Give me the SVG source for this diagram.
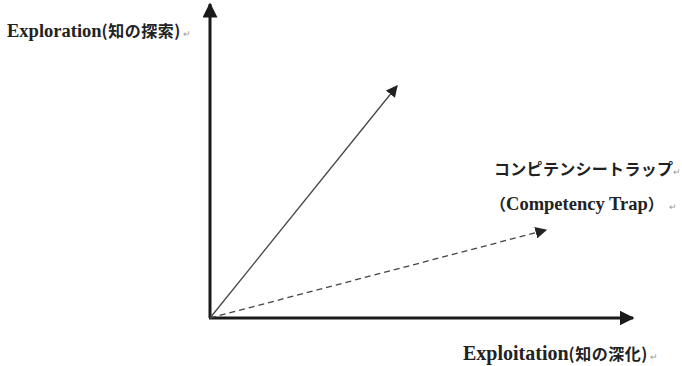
<svg xmlns="http://www.w3.org/2000/svg" width="682" height="366" viewBox="0 0 682 366">
<style>
.lbl{font-family:"Liberation Serif","Times New Roman",serif;font-weight:bold;font-size:18.5px;fill:#222;}
.big{font-size:20px;}
.cjk{font-family:"Noto Sans CJK JP",sans-serif;font-size:16px;font-weight:bold;}
.pm{font-family:"Liberation Sans",sans-serif;font-size:9px;fill:#999;font-weight:normal;}
.axis{stroke:#1a1a1a;stroke-width:3;fill:none;}
.thin{stroke:#444;stroke-width:1.3;fill:none;}
</style>
<defs>
<marker id="ah" viewBox="0 0 10 10" refX="9" refY="5" markerWidth="5" markerHeight="5" orient="auto" markerUnits="strokeWidth"><path d="M0,0 L10,5 L0,10 z" fill="#1a1a1a"/></marker>
<marker id="ah2" viewBox="0 0 10 10" refX="9" refY="5" markerWidth="9" markerHeight="9" orient="auto" markerUnits="strokeWidth"><path d="M0,0 L10,5 L0,10 z" fill="#222"/></marker>
</defs>
<g id="connectors">
<line class="axis" x1="210" y1="318" x2="210" y2="4" marker-end="url(#ah)"/>
<line class="axis" x1="209" y1="318" x2="633" y2="318" marker-end="url(#ah)"/>
<line class="thin" x1="210" y1="318" x2="397" y2="86" marker-end="url(#ah2)"/>
<line class="thin" x1="210" y1="318" x2="546" y2="230" stroke-dasharray="6,4" marker-end="url(#ah2)"/>
</g>
<g id="y-label"><text class="lbl" x="7" y="37">Exploration<tspan class="cjk" letter-spacing="0.5">(知の探索)</tspan><tspan class="pm" dx="2">↵</tspan></text></g>
<g id="trap-label">
<text class="lbl" x="494" y="175"><tspan class="cjk" letter-spacing="0.3">コンピテンシートラップ</tspan><tspan class="pm">↵</tspan></text>
<text class="lbl" x="490" y="210"><tspan class="cjk">（</tspan>Competency Trap<tspan class="cjk">）</tspan><tspan class="pm" dx="5">↵</tspan></text>
</g>
<g id="x-label"><text class="lbl big" x="463" y="360">Exploitation<tspan class="cjk" letter-spacing="0.5">(知の深化)</tspan><tspan class="pm" dx="2">↵</tspan></text></g>
</svg>
